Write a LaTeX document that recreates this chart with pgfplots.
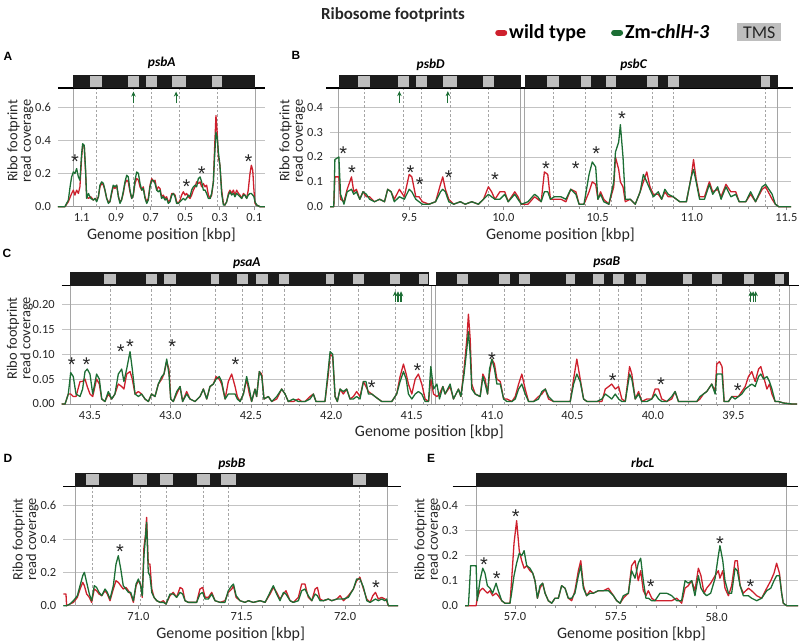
\documentclass[border=0pt]{standalone}
\usepackage{pgfplots}
\pgfplotsset{compat=1.18}
\usepackage{fontspec}
\setmainfont{Carlito}
\newfontfamily\arialfont{Liberation Sans}
\usetikzlibrary{arrows.meta}
\definecolor{wtred}{RGB}{206,32,45}
\definecolor{mutgreen}{RGB}{28,110,52}
\definecolor{tmsgray}{RGB}{190,190,190}
\definecolor{gridgray}{RGB}{195,195,195}
\definecolor{vlinec}{RGB}{165,165,165}
\definecolor{barblack}{RGB}{28,28,28}

\pgfplotsset{
 panel/.style={
  scale only axis, clip=false,
  axis x line*=bottom, axis y line*=left,
  y axis line style={draw=none},
  x axis line style={draw=gray!85, line width=0.7bp},
  xtick style={draw=gray!85, line width=0.6bp},
  major tick length=3.5bp, minor tick length=2.2bp,
  tick align=outside,
  ytick style={draw=none},
  ymajorgrids, grid style={gridgray, line width=0.8bp},
  ymin=0,
  tick label style={font=\fontsize{12.5}{13}\selectfont, text=black!85},
  xlabel style={font=\fontsize{16}{16}\selectfont, text=black!85, yshift=1bp},
  ylabel style={font=\fontsize{14.5}{13.5}\selectfont, text=black!85, align=center, yshift=-5bp},
  xlabel={Genome position [kbp]},
  ylabel={Ribo footprint\\read coverage},
  /pgf/number format/assume math mode=true,
  xticklabel style={/pgf/number format/.cd, fixed, fixed zerofill, precision=1},
  every axis plot/.append style={forget plot},
 },
 wt/.style={wtred, line width=1.3bp, line join=round},
 mt/.style={mutgreen, line width=1.3bp, line join=round},
}
\newcommand{\genebar}[4]{\addplot[fill=barblack, draw=none] coordinates {(#1,#3) (#2,#3) (#2,#4) (#1,#4)} --cycle;}
\newcommand{\tms}[4]{\addplot[fill=tmsgray, draw=none] coordinates {(#1,#3) (#2,#3) (#2,#4) (#1,#4)} --cycle;}
\newcommand{\dline}[2]{\addplot[vlinec, line width=0.6bp, dash pattern=on 2.5bp off 2bp] coordinates {(#1,0) (#1,#2)};}
\newcommand{\sline}[2]{\addplot[vlinec, line width=0.8bp] coordinates {(#1,0) (#1,#2)};}
\newcommand{\hbase}[3]{\addplot[black, line width=1.2bp] coordinates {(#1,#3) (#2,#3)};}
\newcommand{\garrow}[3]{\addplot[mutgreen, line width=1.1bp, -{Stealth[length=5bp,width=4.5bp]}] coordinates {(#1,#2) (#1,#3)};}
\newcommand{\astr}[2]{\node[font=\arialfont\fontsize{20}{20}\selectfont, inner sep=0pt, yshift=-4.5bp, text=black!85] at (axis cs:#1,#2) {*};}
\newcommand{\gname}[3]{\node[font=\bfseries\itshape\fontsize{13.5}{14}\selectfont] at (axis cs:#1,#2) {#3};}

\begin{document}
\begin{tikzpicture}
\useasboundingbox (0,0) rectangle (800bp,-643bp);

\node[font=\bfseries\fontsize{17}{18}\selectfont, text=black!85] at (393bp,-15bp) {Ribosome footprints};
\node[font=\arialfont\bfseries\fontsize{12}{12}\selectfont] at (8bp,-56bp) {A};
\node[font=\arialfont\bfseries\fontsize{12}{12}\selectfont] at (296bp,-55bp) {B};
\node[font=\arialfont\bfseries\fontsize{12}{12}\selectfont] at (7bp,-253bp) {C};
\node[font=\arialfont\bfseries\fontsize{12}{12}\selectfont] at (8bp,-458bp) {D};
\node[font=\arialfont\bfseries\fontsize{12}{12}\selectfont] at (431bp,-458bp) {E};

% ---------------- Panel A ----------------
\begin{axis}[panel, at={(58bp,-206.7bp)}, anchor=south west,
  width=207bp, height=131.7bp,
  x dir=reverse, xmin=0.038, xmax=1.237, ymax=0.795,
  xtick={0.1,0.3,0.5,0.7,0.9,1.1}, minor x tick num=1,
  ytick={0,0.2,0.4,0.6},
  yticklabel style={/pgf/number format/.cd, fixed, fixed zerofill, precision=1}]
\dline{1.017}{0.716}\dline{0.800}{0.716}\dline{0.695}{0.716}\dline{0.536}{0.716}\dline{0.316}{0.716}
\sline{1.150}{0.716}\sline{0.096}{0.716}
\addplot[wt] coordinates {(1.237,0) (1.197,0) (1.177,0.03) (1.158,0.08) (1.148,0.10) (1.139,0.07) (1.129,0.10) (1.119,0.08) (1.110,0.12) (1.100,0.30) (1.094,0.37) (1.085,0.37) (1.077,0.2) (1.071,0.06) (1.061,0.05) (1.047,0.06) (1.032,0.04) (1.022,0.05) (1.013,0.04) (1.003,0.06) (0.994,0.12) (0.984,0.14) (0.974,0.13) (0.965,0.10) (0.955,0.05) (0.945,0.03) (0.936,0.03) (0.926,0.08) (0.917,0.12) (0.907,0.11) (0.897,0.13) (0.887,0.06) (0.878,0.03) (0.869,0.04) (0.859,0.08) (0.849,0.14) (0.839,0.16) (0.830,0.15) (0.820,0.09) (0.810,0.05) (0.801,0.07) (0.791,0.14) (0.781,0.17) (0.771,0.16) (0.762,0.12) (0.752,0.10) (0.743,0.12) (0.733,0.06) (0.723,0.03) (0.714,0.05) (0.704,0.13) (0.694,0.17) (0.685,0.15) (0.675,0.16) (0.665,0.10) (0.656,0.12) (0.646,0.11) (0.637,0.06) (0.627,0.07) (0.617,0.05) (0.608,0.06) (0.598,0.03) (0.588,0.04) (0.578,0.08) (0.569,0.08) (0.559,0.07) (0.550,0.03) (0.540,0.02) (0.530,0.04) (0.521,0.07) (0.511,0.09) (0.501,0.07) (0.492,0.08) (0.482,0.06) (0.472,0.05) (0.463,0.07) (0.453,0.10) (0.443,0.12) (0.434,0.15) (0.424,0.14) (0.414,0.15) (0.405,0.12) (0.395,0.14) (0.385,0.12) (0.376,0.13) (0.366,0.07) (0.356,0.05) (0.347,0.07) (0.337,0.15) (0.330,0.35) (0.322,0.55) (0.315,0.45) (0.308,0.30) (0.299,0.25) (0.289,0.10) (0.279,0.02) (0.270,0.01) (0.260,0.03) (0.250,0.08) (0.241,0.10) (0.231,0.08) (0.221,0.10) (0.212,0.07) (0.202,0.10) (0.192,0.08) (0.183,0.07) (0.173,0.05) (0.163,0.08) (0.154,0.07) (0.144,0.05) (0.135,0.10) (0.125,0.20) (0.117,0.25) (0.109,0.22) (0.102,0.10) (0.096,0.02) (0.086,0.01) (0.067,0) (0.038,0)};
\addplot[mt] coordinates {(1.237,0) (1.197,0) (1.177,0.04) (1.167,0.12) (1.158,0.18) (1.148,0.21) (1.139,0.20) (1.129,0.23) (1.119,0.18) (1.110,0.16) (1.100,0.32) (1.094,0.38) (1.085,0.37) (1.077,0.22) (1.071,0.05) (1.061,0.08) (1.047,0.05) (1.032,0.04) (1.022,0.05) (1.013,0.03) (1.003,0.06) (0.994,0.13) (0.984,0.15) (0.974,0.14) (0.965,0.10) (0.955,0.05) (0.945,0.02) (0.936,0.03) (0.926,0.09) (0.917,0.13) (0.907,0.12) (0.897,0.13) (0.887,0.06) (0.878,0.02) (0.869,0.04) (0.859,0.09) (0.849,0.15) (0.839,0.19) (0.830,0.18) (0.820,0.10) (0.810,0.05) (0.801,0.07) (0.791,0.16) (0.781,0.21) (0.771,0.20) (0.762,0.14) (0.752,0.10) (0.743,0.11) (0.733,0.05) (0.723,0.02) (0.714,0.04) (0.704,0.12) (0.694,0.16) (0.685,0.16) (0.675,0.14) (0.665,0.10) (0.656,0.09) (0.646,0.10) (0.637,0.05) (0.627,0.06) (0.617,0.04) (0.608,0.05) (0.598,0.02) (0.588,0.03) (0.578,0.07) (0.569,0.08) (0.559,0.06) (0.550,0.02) (0.540,0.02) (0.530,0.03) (0.521,0.04) (0.511,0.05) (0.501,0.04) (0.492,0.05) (0.482,0.07) (0.472,0.06) (0.463,0.10) (0.453,0.12) (0.443,0.13) (0.434,0.12) (0.424,0.17) (0.414,0.18) (0.405,0.15) (0.395,0.10) (0.385,0.10) (0.376,0.08) (0.366,0.05) (0.356,0.05) (0.347,0.08) (0.337,0.15) (0.330,0.30) (0.322,0.45) (0.315,0.42) (0.308,0.33) (0.299,0.25) (0.289,0.08) (0.279,0.01) (0.270,0.01) (0.260,0.03) (0.250,0.07) (0.241,0.09) (0.231,0.07) (0.221,0.08) (0.212,0.06) (0.202,0.08) (0.192,0.07) (0.183,0.06) (0.173,0.05) (0.163,0.07) (0.154,0.07) (0.144,0.05) (0.135,0.07) (0.125,0.08) (0.117,0.08) (0.109,0.07) (0.102,0.06) (0.096,0.03) (0.086,0.01) (0.067,0) (0.038,0)};
\hbase{1.237}{0.038}{0.716}
\genebar{0.096}{1.150}{0.716}{0.795}
\tms{0.982}{1.052}{0.724}{0.787}\tms{0.768}{0.831}{0.724}{0.787}\tms{0.663}{0.727}{0.724}{0.787}\tms{0.495}{0.577}{0.724}{0.787}\tms{0.287}{0.345}{0.724}{0.787}
\garrow{0.800}{0.626}{0.695}\garrow{0.553}{0.626}{0.695}
\astr{1.139}{0.30}\astr{0.492}{0.15}\astr{0.405}{0.225}\astr{0.134}{0.30}
\gname{0.636}{0.867}{psbA}
\end{axis}

% ---------------- Panel B ----------------
\begin{axis}[panel, at={(330bp,-206.7bp)}, anchor=south west,
  width=461bp, height=131.7bp,
  xmin=9.080, xmax=11.525, ymax=0.530,
  xtick={9.5,10,10.5,11,11.5}, minor x tick num=4,
  ytick={0,0.1,0.2,0.3,0.4},
  yticklabel style={/pgf/number format/.cd, fixed, fixed zerofill, precision=1},
  legend style={at={(axis description cs:0.358,1.322)}, anchor=west, draw=none, fill=none,
    font=\bfseries\fontsize{20}{20}\selectfont, legend columns=2, inner sep=0pt,
    /tikz/every even column/.append style={column sep=23bp}},
  legend image code/.code={\draw[#1, line width=6bp, line cap=round] (0bp,0bp) -- (6bp,0bp);}]
\addlegendimage{wtred}\addlegendentry{wild type}
\addlegendimage{mutgreen}\addlegendentry{Zm-\textit{chlH-3}}
\dline{9.260}{0.478}\dline{9.470}{0.478}\dline{9.566}{0.478}\dline{9.716}{0.478}\dline{9.920}{0.478}\dline{10.262}{0.478}\dline{10.436}{0.478}\dline{10.572}{0.478}\dline{10.789}{0.478}\dline{10.900}{0.478}\dline{11.390}{0.478}
\sline{9.127}{0.478}\sline{10.092}{0.478}\sline{10.113}{0.478}\sline{11.454}{0.478}
\addplot[wt] coordinates {(9.080,0) (9.100,0) (9.106,0.12) (9.127,0.12) (9.136,0.03) (9.154,0.02) (9.171,0.07) (9.194,0.12) (9.206,0.06) (9.220,0.07) (9.238,0.03) (9.255,0.06) (9.273,0.04) (9.290,0.04) (9.316,0.02) (9.343,0.03) (9.369,0.02) (9.386,0.07) (9.404,0.06) (9.421,0.03) (9.448,0.07) (9.474,0.04) (9.500,0.13) (9.514,0.12) (9.535,0.04) (9.552,0.04) (9.570,0.02) (9.605,0.01) (9.640,0.02) (9.666,0.09) (9.678,0.12) (9.692,0.07) (9.710,0.03) (9.736,0.01) (9.771,0.02) (9.797,0.01) (9.832,0.02) (9.867,0.01) (9.894,0.03) (9.920,0.08) (9.937,0.06) (9.955,0.03) (9.981,0.06) (10.007,0.06) (10.025,0.02) (10.060,0.06) (10.077,0.04) (10.095,0.01) (10.130,0.01) (10.165,0.04) (10.182,0.03) (10.200,0.02) (10.217,0.14) (10.235,0.13) (10.249,0.03) (10.270,0.03) (10.305,0.03) (10.331,0.02) (10.357,0.07) (10.384,0.06) (10.401,0.01) (10.427,0.01) (10.454,0.06) (10.471,0.10) (10.489,0.09) (10.501,0.03) (10.515,0.06) (10.532,0.03) (10.559,0.01) (10.585,0.08) (10.594,0.20) (10.611,0.15) (10.620,0.10) (10.634,0.08) (10.646,0.02) (10.672,0.03) (10.699,0.01) (10.725,0.06) (10.742,0.10) (10.760,0.14) (10.777,0.08) (10.795,0.05) (10.821,0.05) (10.839,0.03) (10.856,0.06) (10.874,0.04) (10.900,0.04) (10.935,0.02) (10.970,0.02) (10.996,0.12) (11.008,0.19) (11.022,0.11) (11.040,0.04) (11.066,0.04) (11.092,0.10) (11.110,0.06) (11.136,0.07) (11.154,0.04) (11.180,0.09) (11.206,0.06) (11.232,0.06) (11.250,0.02) (11.285,0.02) (11.311,0.05) (11.337,0.02) (11.372,0.07) (11.390,0.08) (11.425,0.03) (11.442,0.01) (11.460,0) (11.525,0)};
\addplot[mt] coordinates {(9.080,0) (9.100,0) (9.106,0.19) (9.127,0.20) (9.136,0.05) (9.154,0.01) (9.171,0.06) (9.194,0.07) (9.206,0.05) (9.220,0.06) (9.238,0.03) (9.255,0.06) (9.273,0.05) (9.290,0.03) (9.316,0.02) (9.343,0.03) (9.369,0.02) (9.386,0.07) (9.404,0.06) (9.421,0.02) (9.448,0.04) (9.474,0.03) (9.500,0.07) (9.514,0.06) (9.535,0.03) (9.552,0.02) (9.570,0.01) (9.605,0.01) (9.640,0.02) (9.666,0.06) (9.678,0.07) (9.692,0.06) (9.710,0.02) (9.736,0.01) (9.771,0.02) (9.797,0.01) (9.832,0.02) (9.867,0.01) (9.894,0.03) (9.920,0.05) (9.937,0.04) (9.955,0.03) (9.981,0.03) (10.007,0.05) (10.025,0.02) (10.060,0.05) (10.077,0.03) (10.095,0.01) (10.130,0.02) (10.165,0.05) (10.182,0.04) (10.200,0.02) (10.217,0.06) (10.235,0.06) (10.249,0.03) (10.270,0.04) (10.305,0.04) (10.331,0.03) (10.357,0.07) (10.384,0.05) (10.401,0.01) (10.427,0.01) (10.454,0.13) (10.471,0.18) (10.489,0.16) (10.501,0.03) (10.515,0.05) (10.532,0.02) (10.559,0.01) (10.585,0.10) (10.594,0.22) (10.611,0.26) (10.620,0.33) (10.634,0.20) (10.646,0.03) (10.672,0.03) (10.699,0.01) (10.725,0.06) (10.742,0.13) (10.760,0.10) (10.777,0.07) (10.795,0.04) (10.821,0.06) (10.839,0.03) (10.856,0.07) (10.874,0.05) (10.900,0.04) (10.935,0.02) (10.970,0.02) (10.996,0.12) (11.008,0.15) (11.022,0.10) (11.040,0.03) (11.066,0.03) (11.092,0.09) (11.110,0.05) (11.136,0.08) (11.154,0.03) (11.180,0.08) (11.206,0.04) (11.232,0.05) (11.250,0.02) (11.285,0.02) (11.311,0.06) (11.337,0.02) (11.372,0.08) (11.390,0.09) (11.425,0.05) (11.442,0.01) (11.460,0) (11.525,0)};
\hbase{9.060}{11.535}{0.478}
\genebar{9.127}{10.092}{0.478}{0.530}\genebar{10.113}{11.454}{0.478}{0.530}
\tms{9.229}{9.290}{0.483}{0.525}\tms{9.439}{9.500}{0.483}{0.525}\tms{9.535}{9.596}{0.483}{0.525}\tms{9.678}{9.754}{0.483}{0.525}\tms{9.890}{9.950}{0.483}{0.525}\tms{10.231}{10.293}{0.483}{0.525}\tms{10.410}{10.462}{0.483}{0.525}\tms{10.545}{10.599}{0.483}{0.525}\tms{10.760}{10.818}{0.483}{0.525}\tms{10.870}{10.929}{0.483}{0.525}\tms{11.364}{11.416}{0.483}{0.525}
\garrow{9.448}{0.417}{0.465}\garrow{9.705}{0.417}{0.465}
\astr{9.150}{0.231}\astr{9.197}{0.154}\astr{9.507}{0.154}\astr{9.556}{0.107}\astr{9.710}{0.137}\astr{9.955}{0.128}\astr{10.226}{0.172}\astr{10.384}{0.172}\astr{10.492}{0.231}\astr{10.629}{0.373}
\gname{9.614}{0.570}{psbD}\gname{10.690}{0.570}{psbC}
\node[fill=tmsgray, inner sep=0pt, minimum width=44bp, minimum height=18bp, font=\fontsize{18}{18}\selectfont, text=black!85] at (axis description cs:0.931,1.323) {TMS};
\end{axis}

% ---------------- Panel C ----------------
\begin{axis}[panel, at={(61.7bp,-404bp)}, anchor=south west,
  width=735.3bp, height=131.7bp,
  x dir=reverse, xmin=39.104, xmax=43.676, ymax=0.264,
  xtick={39.5,40,40.5,41,41.5,42,42.5,43,43.5}, minor x tick num=4,
  ytick={0,0.05,0.1,0.15,0.2},
  ylabel style={yshift=-2bp},
  yticklabel style={/pgf/number format/.cd, fixed, fixed zerofill, precision=2}]
\dline{43.376}{0.237}\dline{43.120}{0.237}\dline{43.002}{0.237}\dline{42.724}{0.237}\dline{42.552}{0.237}\dline{42.430}{0.237}\dline{42.293}{0.237}\dline{42.007}{0.237}\dline{41.830}{0.237}\dline{41.603}{0.237}\dline{41.425}{0.237}\dline{41.184}{0.237}\dline{40.922}{0.237}\dline{40.798}{0.237}\dline{40.512}{0.237}\dline{40.336}{0.237}\dline{40.213}{0.237}\dline{40.074}{0.237}\dline{39.782}{0.237}\dline{39.603}{0.237}\dline{39.400}{0.237}\dline{39.211}{0.237}
\sline{43.624}{0.237}\sline{41.375}{0.237}\sline{41.355}{0.237}\sline{39.151}{0.237}
\addplot[wt] coordinates {(43.676,0) (43.655,0) (43.645,0.01) (43.635,0.02) (43.620,0.02) (43.604,0.015) (43.587,0.015) (43.562,0.045) (43.546,0.045) (43.531,0.05) (43.517,0.035) (43.500,0.02) (43.483,0.015) (43.459,0.05) (43.442,0.04) (43.427,0.01) (43.407,0.005) (43.386,0.02) (43.365,0.01) (43.345,0.02) (43.324,0.04) (43.303,0.035) (43.289,0.03) (43.272,0.06) (43.251,0.065) (43.237,0.05) (43.220,0.02) (43.199,0.025) (43.179,0.02) (43.158,0.01) (43.137,0.005) (43.117,0.02) (43.096,0.015) (43.075,0.04) (43.054,0.05) (43.040,0.06) (43.023,0.085) (43.009,0.07) (42.998,0.01) (42.982,0.005) (42.961,0.02) (42.940,0.035) (42.924,0.005) (42.899,0.025) (42.878,0.01) (42.847,0.005) (42.816,0.015) (42.795,0.03) (42.774,0.01) (42.754,0.035) (42.733,0.04) (42.716,0.055) (42.696,0.05) (42.681,0.04) (42.660,0.01) (42.640,0.045) (42.619,0.06) (42.598,0.035) (42.584,0.015) (42.567,0.005) (42.546,0.02) (42.526,0.05) (42.509,0.02) (42.495,0.005) (42.474,0.03) (42.464,0.015) (42.447,0.065) (42.432,0.06) (42.418,0.01) (42.391,0.015) (42.370,0.005) (42.339,0.01) (42.308,0.03) (42.287,0.02) (42.267,0.005) (42.236,0.005) (42.204,0.01) (42.184,0.005) (42.163,0.005) (42.132,0.015) (42.111,0.02) (42.095,0.005) (42.070,0.005) (42.039,0.005) (42.018,0.06) (42.007,0.10) (41.991,0.095) (41.976,0.015) (41.962,0.005) (41.945,0.03) (41.925,0.02) (41.904,0.03) (41.883,0.01) (41.862,0.015) (41.842,0.025) (41.821,0.015) (41.800,0.045) (41.784,0.035) (41.769,0.025) (41.748,0.02) (41.728,0.015) (41.707,0.01) (41.686,0.005) (41.655,0.005) (41.624,0.005) (41.593,0.02) (41.572,0.055) (41.551,0.08) (41.534,0.06) (41.520,0.04) (41.499,0.02) (41.478,0.05) (41.458,0.06) (41.437,0.04) (41.416,0.01) (41.395,0.005) (41.381,0.05) (41.364,0.02) (41.343,0.015) (41.327,0.02) (41.306,0.035) (41.292,0.02) (41.261,0.035) (41.240,0.01) (41.209,0.03) (41.194,0.015) (41.174,0.07) (41.157,0.13) (41.147,0.18) (41.136,0.13) (41.126,0.04) (41.105,0.02) (41.074,0.015) (41.057,0.06) (41.043,0.05) (41.028,0.02) (41.016,0.06) (41.001,0.09) (40.985,0.08) (40.970,0.05) (40.949,0.045) (40.928,0.01) (40.908,0.01) (40.877,0.005) (40.856,0.015) (40.835,0.04) (40.815,0.06) (40.794,0.03) (40.773,0.005) (40.742,0.005) (40.711,0.015) (40.690,0.02) (40.669,0.03) (40.649,0.01) (40.618,0.005) (40.587,0.005) (40.556,0.005) (40.514,0.005) (40.493,0.05) (40.473,0.09) (40.452,0.05) (40.431,0.01) (40.410,0.005) (40.379,0.005) (40.348,0.005) (40.317,0.005) (40.296,0.03) (40.275,0.035) (40.256,0.04) (40.234,0.03) (40.213,0.035) (40.193,0.01) (40.172,0.005) (40.145,0.075) (40.131,0.06) (40.110,0.01) (40.089,0.025) (40.069,0.005) (40.038,0.01) (40.007,0.01) (39.986,0.03) (39.965,0.03) (39.945,0.01) (39.914,0.005) (39.883,0.01) (39.862,0.025) (39.841,0.005) (39.810,0.005) (39.769,0.005) (39.727,0.005) (39.707,0.01) (39.686,0.02) (39.665,0.025) (39.634,0.04) (39.613,0.025) (39.603,0.08) (39.586,0.085) (39.570,0.075) (39.557,0.005) (39.530,0.005) (39.509,0.015) (39.489,0.015) (39.468,0.015) (39.447,0.025) (39.426,0.035) (39.406,0.055) (39.385,0.065) (39.364,0.045) (39.343,0.07) (39.329,0.075) (39.312,0.055) (39.291,0.03) (39.275,0.04) (39.260,0.02) (39.240,0.005) (39.219,0.005) (39.188,0.002) (39.136,0) (39.104,0)};
\addplot[mt] coordinates {(43.676,0) (43.655,0) (43.645,0.01) (43.635,0.02) (43.620,0.063) (43.604,0.055) (43.587,0.02) (43.562,0.015) (43.546,0.03) (43.531,0.065) (43.517,0.07) (43.500,0.06) (43.483,0.02) (43.459,0.06) (43.442,0.05) (43.427,0.01) (43.407,0.005) (43.386,0.025) (43.365,0.01) (43.345,0.02) (43.324,0.06) (43.303,0.07) (43.289,0.045) (43.272,0.07) (43.251,0.105) (43.237,0.07) (43.220,0.02) (43.199,0.015) (43.179,0.02) (43.158,0.01) (43.137,0.005) (43.117,0.02) (43.096,0.015) (43.075,0.04) (43.054,0.055) (43.040,0.06) (43.023,0.09) (43.009,0.06) (42.998,0.01) (42.982,0.005) (42.961,0.025) (42.940,0.035) (42.924,0.005) (42.899,0.02) (42.878,0.01) (42.847,0.005) (42.816,0.015) (42.795,0.03) (42.774,0.01) (42.754,0.035) (42.733,0.04) (42.716,0.05) (42.696,0.055) (42.681,0.045) (42.660,0.01) (42.640,0.02) (42.619,0.02) (42.598,0.02) (42.584,0.01) (42.567,0.005) (42.546,0.02) (42.526,0.055) (42.509,0.03) (42.495,0.005) (42.474,0.03) (42.464,0.015) (42.447,0.065) (42.432,0.055) (42.418,0.01) (42.391,0.015) (42.370,0.005) (42.339,0.015) (42.308,0.03) (42.287,0.02) (42.267,0.005) (42.236,0.01) (42.204,0.005) (42.184,0.005) (42.163,0.005) (42.132,0.01) (42.111,0.02) (42.095,0.005) (42.070,0.005) (42.039,0.005) (42.018,0.07) (42.007,0.105) (41.991,0.10) (41.976,0.015) (41.962,0.005) (41.945,0.03) (41.925,0.025) (41.904,0.03) (41.883,0.01) (41.862,0.01) (41.842,0.015) (41.821,0.01) (41.800,0.045) (41.784,0.045) (41.769,0.02) (41.748,0.02) (41.728,0.015) (41.707,0.01) (41.686,0.005) (41.655,0.005) (41.624,0.005) (41.593,0.02) (41.572,0.045) (41.551,0.065) (41.534,0.05) (41.520,0.02) (41.499,0.01) (41.478,0.02) (41.458,0.025) (41.437,0.02) (41.416,0.005) (41.395,0.005) (41.381,0.075) (41.364,0.03) (41.343,0.04) (41.327,0.01) (41.306,0.035) (41.292,0.02) (41.261,0.04) (41.240,0.01) (41.209,0.03) (41.194,0.015) (41.174,0.06) (41.157,0.11) (41.147,0.145) (41.136,0.10) (41.126,0.03) (41.105,0.02) (41.074,0.015) (41.057,0.055) (41.043,0.04) (41.028,0.02) (41.016,0.07) (41.001,0.09) (40.985,0.07) (40.970,0.04) (40.949,0.04) (40.928,0.01) (40.908,0.005) (40.877,0.005) (40.856,0.01) (40.835,0.03) (40.815,0.04) (40.794,0.02) (40.773,0.005) (40.742,0.005) (40.711,0.01) (40.690,0.025) (40.669,0.03) (40.649,0.015) (40.618,0.005) (40.587,0.005) (40.556,0.005) (40.514,0.005) (40.493,0.04) (40.473,0.06) (40.452,0.045) (40.431,0.01) (40.410,0.005) (40.379,0.005) (40.348,0.005) (40.317,0.01) (40.296,0.02) (40.275,0.015) (40.256,0.01) (40.234,0.02) (40.213,0.01) (40.193,0.005) (40.172,0.005) (40.145,0.06) (40.131,0.05) (40.110,0.01) (40.089,0.02) (40.069,0.005) (40.038,0.005) (40.007,0.01) (39.986,0.02) (39.965,0.01) (39.945,0.005) (39.914,0.005) (39.883,0.015) (39.862,0.025) (39.841,0.005) (39.810,0.005) (39.769,0.005) (39.727,0.005) (39.707,0.015) (39.686,0.02) (39.665,0.025) (39.634,0.04) (39.613,0.02) (39.603,0.06) (39.586,0.06) (39.570,0.06) (39.557,0.005) (39.530,0.005) (39.509,0.015) (39.489,0.01) (39.468,0.015) (39.447,0.02) (39.426,0.03) (39.406,0.035) (39.385,0.04) (39.364,0.035) (39.343,0.055) (39.329,0.06) (39.312,0.05) (39.291,0.055) (39.275,0.045) (39.260,0.03) (39.240,0.005) (39.219,0.005) (39.188,0.002) (39.136,0) (39.104,0)};
\hbase{43.676}{39.09}{0.237}
\genebar{41.392}{43.624}{0.237}{0.264}\genebar{39.151}{41.348}{0.237}{0.264}
\tms{43.340}{43.411}{0.240}{0.261}\tms{43.085}{43.154}{0.240}{0.261}\tms{42.965}{43.038}{0.240}{0.261}\tms{42.698}{42.749}{0.240}{0.261}\tms{42.516}{42.588}{0.240}{0.261}\tms{42.391}{42.468}{0.240}{0.261}\tms{42.261}{42.325}{0.240}{0.261}\tms{41.981}{42.032}{0.240}{0.261}\tms{41.796}{41.863}{0.240}{0.261}\tms{41.572}{41.634}{0.240}{0.261}\tms{41.396}{41.454}{0.240}{0.261}\tms{41.151}{41.216}{0.240}{0.261}\tms{40.888}{40.955}{0.240}{0.261}\tms{40.764}{40.832}{0.240}{0.261}\tms{40.484}{40.540}{0.240}{0.261}\tms{40.302}{40.370}{0.240}{0.261}\tms{40.177}{40.249}{0.240}{0.261}\tms{40.042}{40.106}{0.240}{0.261}\tms{39.754}{39.810}{0.240}{0.261}\tms{39.572}{39.634}{0.240}{0.261}\tms{39.369}{39.431}{0.240}{0.261}\tms{39.182}{39.240}{0.240}{0.261}
\garrow{41.603}{0.204}{0.226}\garrow{41.585}{0.204}{0.226}\garrow{41.566}{0.204}{0.226}
\garrow{39.392}{0.204}{0.226}\garrow{39.377}{0.204}{0.226}\garrow{39.361}{0.204}{0.226}
\astr{43.614}{0.088}\astr{43.521}{0.088}\astr{43.309}{0.114}\astr{43.251}{0.125}\astr{42.988}{0.125}\astr{42.596}{0.088}\astr{41.748}{0.041}\astr{41.463}{0.075}\astr{41.000}{0.098}\astr{40.250}{0.056}\astr{39.950}{0.048}\astr{39.473}{0.035}
\gname{42.525}{0.282}{psaA}\gname{40.287}{0.285}{psaB}
\end{axis}

% ---------------- Panel D ----------------
\begin{axis}[panel, at={(63.3bp,-605.7bp)}, anchor=south west,
  width=334.7bp, height=133bp,
  xmin=70.637, xmax=72.256, ymax=0.798,
  xtick={71,71.5,72}, minor x tick num=4,
  ytick={0,0.2,0.4,0.6},
  yticklabel style={/pgf/number format/.cd, fixed, fixed zerofill, precision=1}]
\dline{70.779}{0.714}\dline{71.009}{0.714}\dline{71.137}{0.714}\dline{71.315}{0.714}\dline{71.436}{0.714}\dline{72.070}{0.714}
\sline{70.694}{0.714}\sline{72.207}{0.714}
\addplot[wt] coordinates {(70.637,0.07) (70.650,0.07) (70.653,0.0) (70.669,0.01) (70.686,0.02) (70.705,0.05) (70.718,0.10) (70.731,0.14) (70.739,0.12) (70.750,0.07) (70.763,0.05) (70.774,0.02) (70.787,0.10) (70.798,0.09) (70.810,0.07) (70.823,0.06) (70.839,0.09) (70.850,0.07) (70.863,0.03) (70.879,0.10) (70.892,0.15) (70.903,0.14) (70.915,0.12) (70.927,0.10) (70.940,0.11) (70.952,0.09) (70.963,0.07) (70.976,0.02) (70.989,0.12) (71.000,0.15) (71.011,0.13) (71.019,0.05) (71.027,0.35) (71.034,0.42) (71.040,0.53) (71.048,0.25) (71.056,0.25) (71.065,0.10) (71.076,0.05) (71.089,0.03) (71.105,0.02) (71.121,0.03) (71.134,0.01) (71.153,0.06) (71.169,0.08) (71.185,0.05) (71.202,0.11) (71.214,0.10) (71.226,0.03) (71.242,0.02) (71.263,0.02) (71.282,0.02) (71.298,0.10) (71.311,0.11) (71.323,0.05) (71.339,0.05) (71.355,0.08) (71.371,0.03) (71.395,0.02) (71.419,0.03) (71.435,0.08) (71.452,0.10) (71.460,0.12) (71.473,0.05) (71.492,0.03) (71.516,0.02) (71.532,0.03) (71.556,0.02) (71.589,0.03) (71.613,0.02) (71.637,0.07) (71.653,0.11) (71.669,0.08) (71.685,0.04) (71.702,0.07) (71.714,0.09) (71.734,0.03) (71.750,0.02) (71.774,0.05) (71.790,0.13) (71.806,0.13) (71.822,0.05) (71.839,0.03) (71.855,0.10) (71.866,0.11) (71.879,0.04) (71.895,0.03) (71.919,0.04) (71.935,0.03) (71.960,0.04) (71.976,0.06) (71.992,0.03) (72.016,0.06) (72.040,0.10) (72.056,0.15) (72.072,0.17) (72.089,0.10) (72.105,0.04) (72.121,0.02) (72.134,0.06) (72.147,0.08) (72.161,0.04) (72.177,0.05) (72.193,0.04) (72.201,0.03) (72.209,0) (72.256,0)};
\addplot[mt] coordinates {(70.637,0) (70.650,0) (70.653,0) (70.669,0.01) (70.686,0.03) (70.705,0.06) (70.718,0.12) (70.731,0.18) (70.739,0.20) (70.750,0.14) (70.763,0.07) (70.774,0.03) (70.787,0.12) (70.798,0.11) (70.810,0.08) (70.823,0.06) (70.839,0.10) (70.850,0.08) (70.863,0.04) (70.879,0.12) (70.892,0.25) (70.903,0.30) (70.915,0.22) (70.927,0.12) (70.940,0.10) (70.952,0.08) (70.963,0.08) (70.976,0.03) (70.989,0.13) (71.000,0.16) (71.011,0.12) (71.019,0.06) (71.027,0.30) (71.034,0.40) (71.040,0.50) (71.048,0.20) (71.056,0.18) (71.065,0.08) (71.076,0.05) (71.089,0.03) (71.105,0.02) (71.121,0.02) (71.134,0.01) (71.153,0.07) (71.169,0.07) (71.185,0.05) (71.202,0.08) (71.214,0.07) (71.226,0.03) (71.242,0.02) (71.263,0.02) (71.282,0.02) (71.298,0.07) (71.311,0.08) (71.323,0.04) (71.339,0.04) (71.355,0.07) (71.371,0.03) (71.395,0.02) (71.419,0.02) (71.435,0.09) (71.452,0.12) (71.460,0.13) (71.473,0.06) (71.492,0.03) (71.516,0.02) (71.532,0.03) (71.556,0.02) (71.589,0.03) (71.613,0.02) (71.637,0.08) (71.653,0.12) (71.669,0.07) (71.685,0.03) (71.702,0.08) (71.714,0.07) (71.734,0.03) (71.750,0.02) (71.774,0.03) (71.790,0.09) (71.806,0.10) (71.822,0.06) (71.839,0.03) (71.855,0.07) (71.866,0.06) (71.879,0.03) (71.895,0.03) (71.919,0.04) (71.935,0.03) (71.960,0.04) (71.976,0.04) (71.992,0.04) (72.016,0.05) (72.040,0.10) (72.056,0.16) (72.072,0.16) (72.089,0.11) (72.105,0.03) (72.121,0.02) (72.134,0.03) (72.147,0.04) (72.161,0.03) (72.177,0.04) (72.193,0.03) (72.201,0.04) (72.209,0) (72.256,0)};
\hbase{70.637}{72.27}{0.714}
\genebar{70.694}{72.207}{0.714}{0.798}
\tms{70.747}{70.810}{0.722}{0.790}\tms{70.973}{71.044}{0.722}{0.790}\tms{71.105}{71.169}{0.722}{0.790}\tms{71.283}{71.347}{0.722}{0.790}\tms{71.399}{71.473}{0.722}{0.790}\tms{72.040}{72.100}{0.722}{0.790}
\astr{70.911}{0.354}\astr{72.150}{0.134}
\gname{71.452}{0.854}{psbB}
\end{axis}

% ---------------- Panel E ----------------
\begin{axis}[panel, at={(465bp,-605.7bp)}, anchor=south west,
  width=333bp, height=133bp,
  xmin=56.752, xmax=58.403, ymax=0.532,
  xtick={57,57.5,58}, minor x tick num=4,
  ytick={0,0.1,0.2,0.3,0.4},
  yticklabel style={/pgf/number format/.cd, fixed, fixed zerofill, precision=1}]
\sline{56.807}{0.476}\sline{58.347}{0.476}
\addplot[wt] coordinates {(56.752,0) (56.769,0) (56.780,0) (56.807,0) (56.813,0.03) (56.826,0.06) (56.840,0.07) (56.851,0.06) (56.863,0.05) (56.876,0.06) (56.889,0.04) (56.906,0.05) (56.917,0.04) (56.934,0.02) (56.950,0.01) (56.975,0.01) (56.983,0.10) (56.995,0.25) (57.008,0.34) (57.021,0.22) (57.033,0.18) (57.045,0.15) (57.058,0.16) (57.074,0.14) (57.088,0.13) (57.099,0.10) (57.111,0.03) (57.124,0.07) (57.137,0.09) (57.149,0.05) (57.165,0.02) (57.182,0.01) (57.198,0.03) (57.215,0.03) (57.231,0.08) (57.248,0.07) (57.264,0.03) (57.281,0.02) (57.297,0.06) (57.314,0.14) (57.326,0.18) (57.339,0.08) (57.355,0.04) (57.372,0.06) (57.388,0.05) (57.413,0.06) (57.438,0.06) (57.463,0.07) (57.488,0.04) (57.504,0.02) (57.521,0.01) (57.537,0.03) (57.562,0.05) (57.578,0.16) (57.595,0.18) (57.611,0.10) (57.623,0.14) (57.636,0.06) (57.649,0.04) (57.661,0.06) (57.678,0.03) (57.694,0.02) (57.719,0.02) (57.752,0.02) (57.777,0.02) (57.802,0.03) (57.826,0.01) (57.843,0.07) (57.859,0.08) (57.876,0.10) (57.892,0.06) (57.909,0.15) (57.922,0.12) (57.937,0.05) (57.950,0.07) (57.970,0.09) (57.992,0.12) (58.008,0.14) (58.016,0.11) (58.030,0.14) (58.041,0.07) (58.058,0.04) (58.074,0.08) (58.091,0.18) (58.102,0.18) (58.116,0.08) (58.132,0.05) (58.157,0.07) (58.173,0.06) (58.198,0.04) (58.223,0.03) (58.248,0.07) (58.268,0.10) (58.284,0.13) (58.297,0.17) (58.311,0.13) (58.322,0.05) (58.330,0.01) (58.347,0) (58.403,0)};
\addplot[mt] coordinates {(56.752,0) (56.769,0) (56.780,0.16) (56.807,0.16) (56.813,0.02) (56.826,0.10) (56.840,0.15) (56.851,0.13) (56.863,0.08) (56.876,0.07) (56.889,0.05) (56.906,0.09) (56.917,0.06) (56.934,0.02) (56.950,0.01) (56.975,0.01) (56.983,0.05) (56.995,0.12) (57.008,0.17) (57.021,0.21) (57.033,0.20) (57.045,0.22) (57.058,0.16) (57.074,0.15) (57.088,0.13) (57.099,0.10) (57.111,0.03) (57.124,0.08) (57.137,0.09) (57.149,0.05) (57.165,0.02) (57.182,0.01) (57.198,0.03) (57.215,0.03) (57.231,0.08) (57.248,0.07) (57.264,0.03) (57.281,0.03) (57.297,0.05) (57.314,0.12) (57.326,0.16) (57.339,0.07) (57.355,0.04) (57.372,0.05) (57.388,0.05) (57.413,0.06) (57.438,0.06) (57.463,0.06) (57.488,0.04) (57.504,0.02) (57.521,0.01) (57.537,0.04) (57.562,0.05) (57.578,0.14) (57.595,0.11) (57.611,0.17) (57.623,0.19) (57.636,0.10) (57.649,0.03) (57.661,0.03) (57.678,0.02) (57.694,0.02) (57.719,0.05) (57.752,0.05) (57.777,0.04) (57.802,0.02) (57.826,0.02) (57.843,0.10) (57.859,0.09) (57.876,0.10) (57.892,0.04) (57.909,0.12) (57.922,0.07) (57.937,0.05) (57.950,0.04) (57.970,0.05) (57.992,0.11) (58.008,0.20) (58.016,0.24) (58.030,0.18) (58.041,0.10) (58.058,0.05) (58.074,0.05) (58.091,0.15) (58.102,0.14) (58.116,0.08) (58.132,0.04) (58.157,0.04) (58.173,0.03) (58.198,0.02) (58.223,0.03) (58.248,0.06) (58.268,0.07) (58.284,0.10) (58.297,0.12) (58.311,0.12) (58.322,0.05) (58.330,0.01) (58.347,0) (58.403,0)};
\hbase{56.69}{58.403}{0.476}
\genebar{56.807}{58.347}{0.476}{0.532}
\astr{56.846}{0.183}\astr{56.909}{0.127}\astr{57.003}{0.376}\astr{57.673}{0.096}\astr{58.016}{0.265}\astr{58.168}{0.096}
\gname{57.633}{0.570}{rbcL}
\end{axis}
\end{tikzpicture}
\end{document}
